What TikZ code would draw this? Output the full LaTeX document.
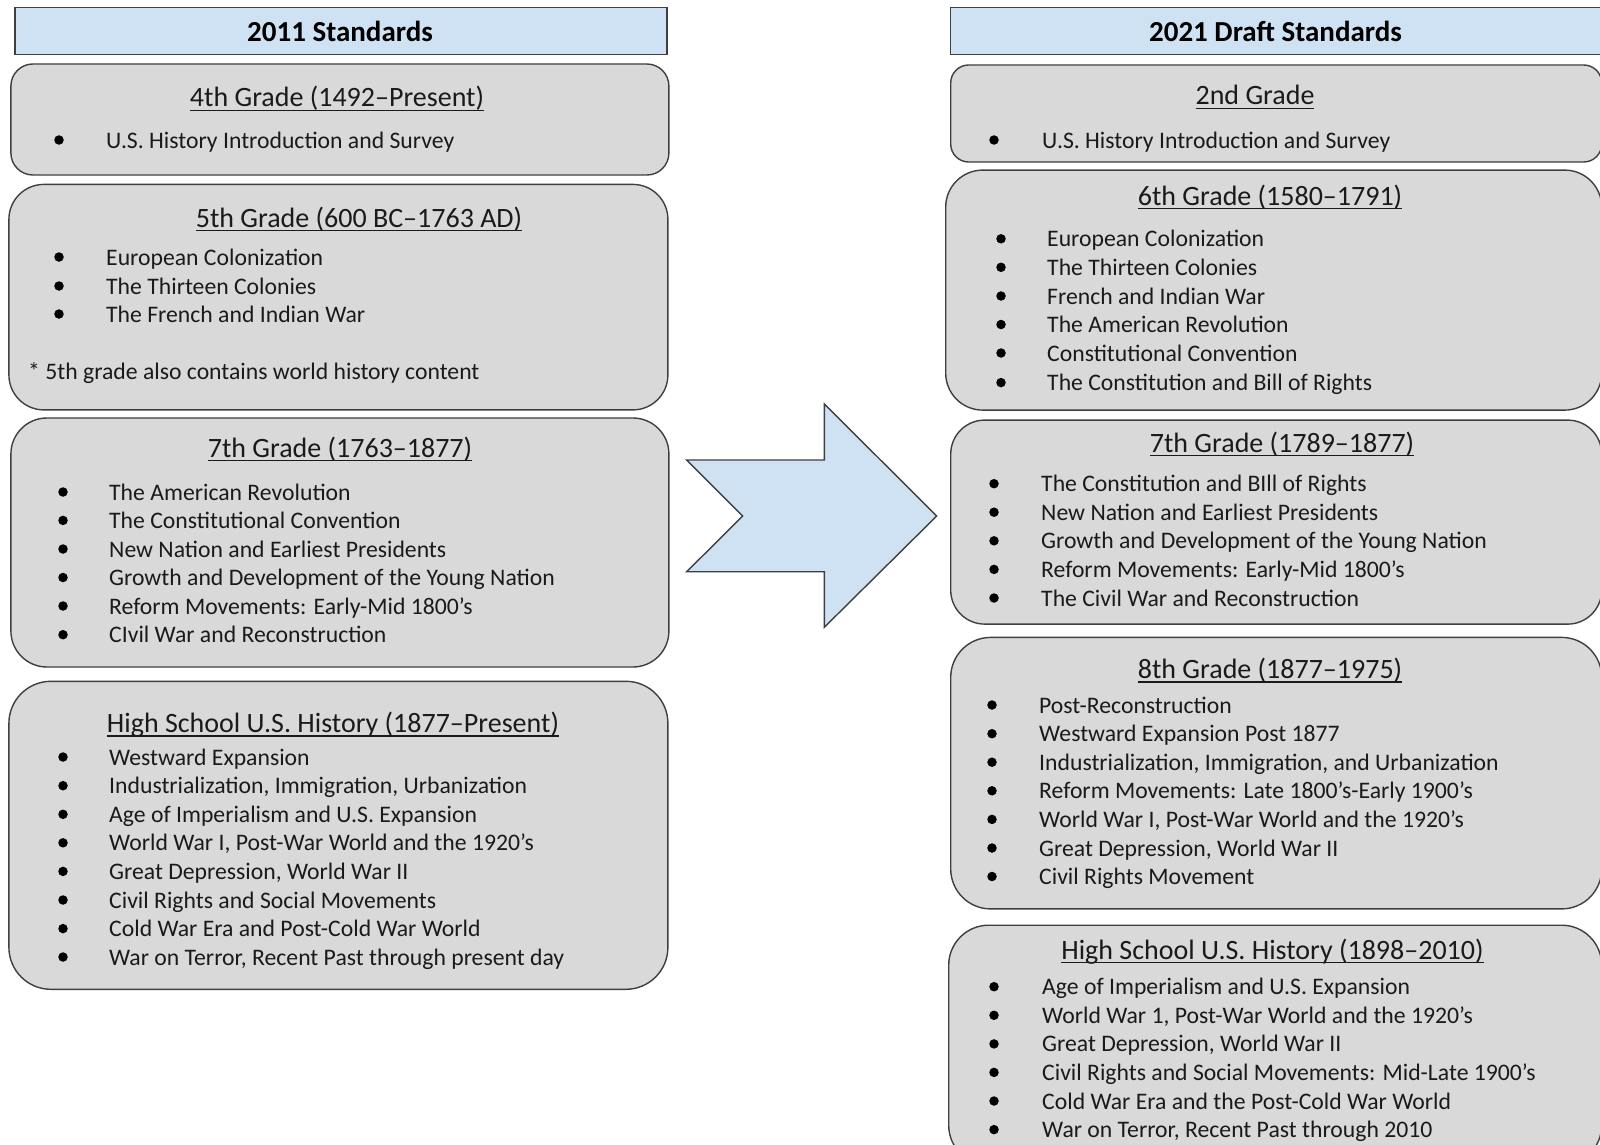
\documentclass[tikz,border=0pt]{standalone}
\usepackage{fontspec}
\setmainfont{Carlito}
\definecolor{hdrblue}{HTML}{CFE2F3}
\definecolor{boxgray}{HTML}{D9D9D9}
\definecolor{bordc}{HTML}{3F3F3F}
\definecolor{txt}{HTML}{1A1A1A}
\newcommand\ulx[1]{\setbox0=\hbox{#1}\rlap{\rule[-4pt]{\wd0}{1.2pt}}\box0}
\tikzset{
  hdr/.style={draw=bordc, fill=hdrblue, line width=1.4pt, inner sep=0, anchor=north west},
  gbox/.style={draw=bordc, fill=boxgray, line width=1.4pt, inner sep=0, anchor=north west},
  itm/.style={anchor=base west, inner sep=0, text=txt, font=\fontsize{23.7}{28}\selectfont},
  bul/.style={circle, fill=black, inner sep=0, minimum size=9.5pt},
  ttl/.style={anchor=base, inner sep=0, text=txt, font=\fontsize{28}{33}\selectfont},
  htxt/.style={anchor=base, inner sep=0, text=black, font=\bfseries\fontsize{29}{34}\selectfont},
  barrow/.style={draw=bordc, fill=hdrblue, line width=1.4pt, line join=miter}
}
% name, bullet x, text x, centre y, text
\newcommand\bl[5]{%
  \node[bul] (#1b) at (#2,#4+1) {};
  \node[itm] (#1) at (#3,#4+9) {#5};}
\begin{document}
\begin{tikzpicture}[x=1pt,y=-1pt]
\useasboundingbox (0,0) rectangle (1600,1145);
\fill[white] (0,0) rectangle (1600,1145);
\clip (0,0) rectangle (1600,1145);

% ---------- left column ----------
\node[hdr, minimum width=652pt, minimum height=47pt] (lhdr) at (14.3,7.1) {};
\node[htxt] (lhdrt) at (340,42) {2011 Standards};

\node[gbox, rounded corners=22pt, minimum width=658pt, minimum height=111pt] (lb1) at (10.2,63.3) {};
\node[ttl] (lb1t) at (337,107) {\ulx{4th Grade (1492–Present)}};
\bl{lb1a}{59}{106}{139}{U.S. History Introduction and Survey}

\node[gbox, rounded corners=35pt, minimum width=659pt, minimum height=225.5pt] (lb2) at (8.2,183.7) {};
\node[ttl] (lb2t) at (359,227) {\ulx{5th Grade (600 BC–1763 AD)}};
\bl{lb2a}{59}{106}{256}{European Colonization}
\bl{lb2b}{59}{106}{285}{The Thirteen Colonies}
\bl{lb2c}{59}{106}{313}{The French and Indian War}
\node[itm] (lb2n) at (28,379) {* 5th grade also contains world history content};

\node[gbox, rounded corners=36pt, minimum width=658pt, minimum height=249pt] (lb3) at (10.2,417.3) {};
\node[ttl] (lb3t) at (340,457) {\ulx{7th Grade (1763–1877)}};
\bl{lb3a}{63}{109}{491}{The American Revolution}
\bl{lb3b}{63}{109}{519.4}{The Constitutional Convention}
\bl{lb3c}{63}{109}{548}{New Nation and Earliest Presidents}
\bl{lb3d}{63}{109}{576.5}{Growth and Development of the Young Nation}
\bl{lb3e}{63}{109}{605}{Reform Movements: Early-Mid 1800’s}
\bl{lb3f}{63}{109}{633.7}{CIvil War and Reconstruction}

\node[gbox, rounded corners=42pt, minimum width=659pt, minimum height=308pt] (lb4) at (8.2,680.6) {};
\node[ttl] (lb4t) at (333,732.5) {\ulx{High School U.S. History (1877–Present)}};
\bl{lb4a}{63}{109}{756}{Westward Expansion}
\bl{lb4b}{63}{109}{784.7}{Industrialization, Immigration, Urbanization}
\bl{lb4c}{63}{109}{813.3}{Age of Imperialism and U.S. Expansion}
\bl{lb4d}{63}{109}{841.8}{World War I, Post-War World and the 1920’s}
\bl{lb4e}{63}{109}{870.4}{Great Depression, World War II}
\bl{lb4f}{63}{109}{899}{Civil Rights and Social Movements}
\bl{lb4g}{63}{109}{927.6}{Cold War Era and Post-Cold War World}
\bl{lb4h}{63}{109}{956}{War on Terror, Recent Past through present day}

% ---------- arrow ----------
\draw[barrow] (686.7,460) -- (824.3,460) -- (824.3,404) -- (936.7,516)
  -- (824.3,627.3) -- (824.3,571.7) -- (686.7,571.7) -- (742.7,516) -- cycle;

% ---------- right column ----------
\node[hdr, minimum width=660pt, minimum height=47pt] (rhdr) at (950,7.1) {};
\node[htxt] (rhdrt) at (1275.5,42) {2021 Draft Standards};

\node[gbox, rounded corners=18pt, minimum width=651pt, minimum height=97pt] (rb1) at (950,64.3) {};
\node[ttl] (rb1t) at (1255,105) {\ulx{2nd Grade}};
\bl{rb1a}{994}{1042}{139}{U.S. History Introduction and Survey}

\node[gbox, rounded corners=37pt, minimum width=656pt, minimum height=240pt] (rb2) at (945,169.4) {};
\node[ttl] (rb2t) at (1270,205) {\ulx{6th Grade (1580–1791)}};
\bl{rb2a}{1001}{1047}{237.8}{European Colonization}
\bl{rb2b}{1001}{1047}{266.3}{The Thirteen Colonies}
\bl{rb2c}{1001}{1047}{295}{French and Indian War}
\bl{rb2d}{1001}{1047}{323.5}{The American Revolution}
\bl{rb2e}{1001}{1047}{352}{Constitutional Convention}
\bl{rb2f}{1001}{1047}{381.6}{The Constitution and Bill of Rights}

\node[gbox, rounded corners=34pt, minimum width=651pt, minimum height=204pt] (rb3) at (950,419.4) {};
\node[ttl] (rb3t) at (1282,452) {\ulx{7th Grade (1789–1877)}};
\bl{rb3a}{994}{1041}{482.7}{The Constitution and BIll of Rights}
\bl{rb3b}{994}{1041}{511.2}{New Nation and Earliest Presidents}
\bl{rb3c}{994}{1041}{539.8}{Growth and Development of the Young Nation}
\bl{rb3d}{994}{1041}{568.4}{Reform Movements: Early-Mid 1800’s}
\bl{rb3e}{994}{1041}{597}{The Civil War and Reconstruction}

\node[gbox, rounded corners=40pt, minimum width=651pt, minimum height=271.5pt] (rb4) at (950,636.7) {};
\node[ttl] (rb4t) at (1270,678.5) {\ulx{8th Grade (1877–1975)}};
\bl{rb4a}{992}{1039}{704}{Post-Reconstruction}
\bl{rb4b}{992}{1039}{732.7}{Westward Expansion Post 1877}
\bl{rb4c}{992}{1039}{761.2}{Industrialization, Immigration, and Urbanization}
\bl{rb4d}{992}{1039}{789.8}{Reform Movements: Late 1800’s-Early 1900’s}
\bl{rb4e}{992}{1039}{818.4}{World War I, Post-War World and the 1920’s}
\bl{rb4f}{992}{1039}{847}{Great Depression, World War II}
\bl{rb4g}{992}{1039}{875.5}{Civil Rights Movement}

\node[gbox, rounded corners=40pt, minimum width=653pt, minimum height=240pt] (rb5) at (948,924.5) {};
\node[ttl] (rb5t) at (1272.5,959) {\ulx{High School U.S. History (1898–2010)}};
\bl{rb5a}{994}{1042}{985.7}{Age of Imperialism and U.S. Expansion}
\bl{rb5b}{994}{1042}{1014.3}{World War 1, Post-War World and the 1920’s}
\bl{rb5c}{994}{1042}{1042.9}{Great Depression, World War II}
\bl{rb5d}{994}{1042}{1071.4}{Civil Rights and Social Movements: Mid-Late 1900’s}
\bl{rb5e}{994}{1042}{1100}{Cold War Era and the Post-Cold War World}
\bl{rb5f}{994}{1042}{1128.6}{War on Terror, Recent Past through 2010}
\end{tikzpicture}
\end{document}
